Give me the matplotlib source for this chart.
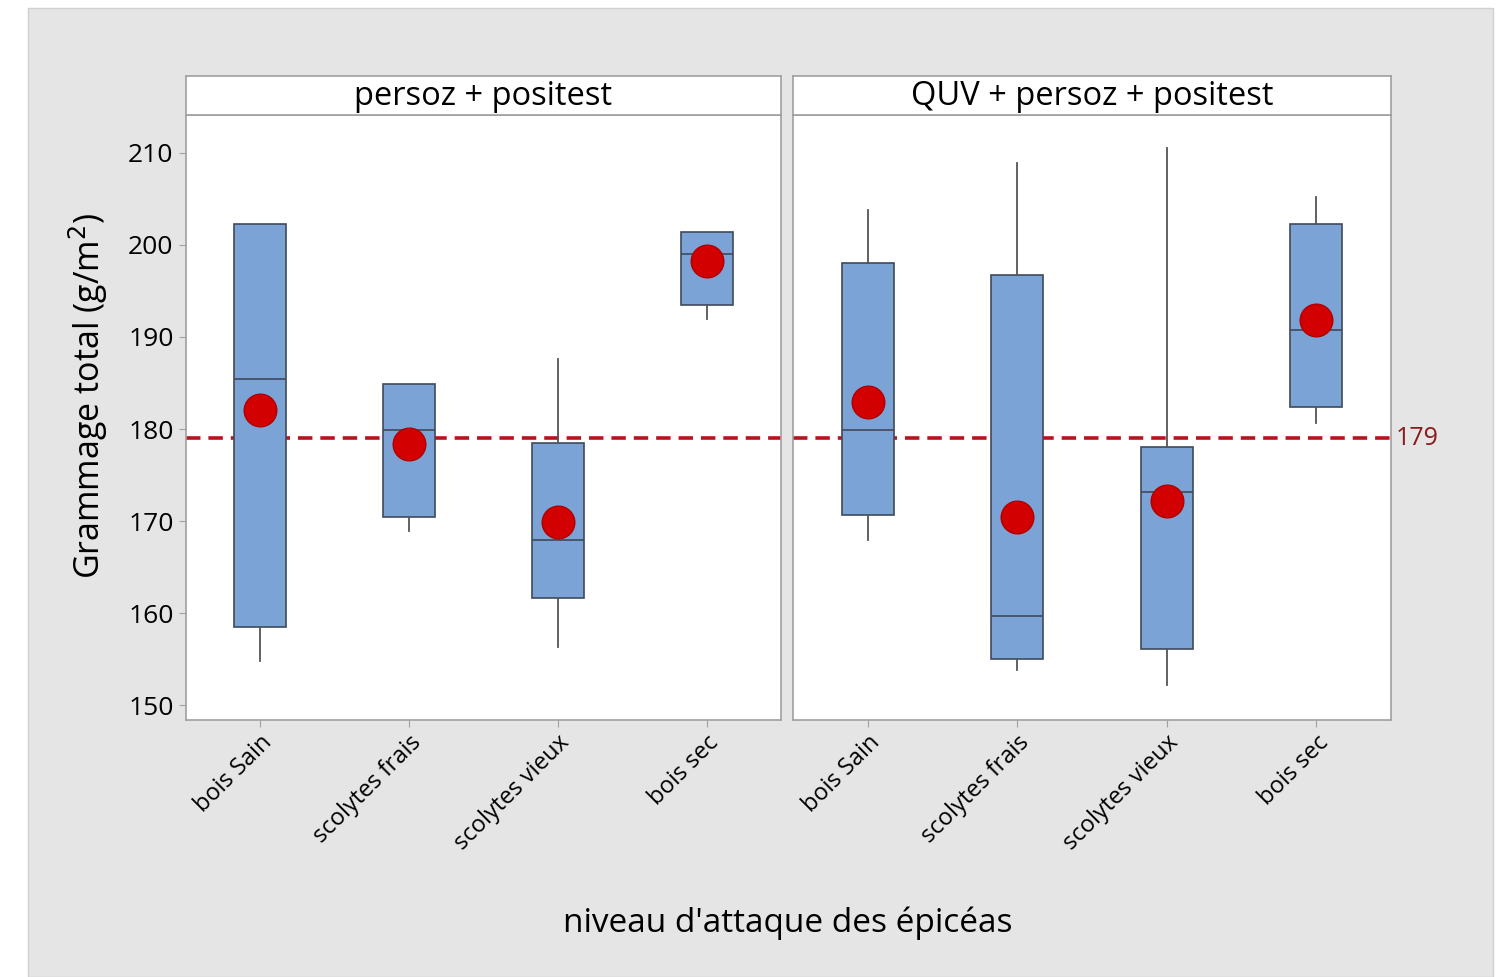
import numpy as np
import matplotlib
matplotlib.use('Agg')
from matplotlib import pyplot as plt
from matplotlib.patches import Rectangle

plt.rcParams['font.family'] = ['Open Sans', 'DejaVu Sans']

# données
categories = ['bois Sain', 'scolytes frais', 'scolytes vieux', 'bois sec']
panels = ['persoz + positest', 'QUV + persoz + positest']

q1_a = [158.5, 170.4, 161.7, 193.5]
med_a = [185.4, 179.9, 167.9, 199.0]
q3_a = [202.3, 184.9, 178.5, 201.4]
lo_a = [154.8, 168.9, 156.3, 192.0]
hi_a = [202.3, 184.9, 187.6, 201.4]
mean_a = [182.1, 178.4, 169.9, 198.2]

q1_b = [170.7, 155.0, 156.1, 182.4]
med_b = [179.9, 159.7, 173.2, 190.7]
q3_b = [198.0, 196.7, 178.1, 202.3]
lo_b = [167.9, 153.8, 152.2, 180.7]
hi_b = [203.8, 208.9, 210.5, 205.2]
mean_b = [182.9, 170.4, 172.2, 191.8]

ref_value = 179
y_ticks = [150, 160, 170, 180, 190, 200, 210]

W, H = 1506, 977
fig = plt.figure(figsize=(W / 100, H / 100), dpi=100)
fig.patch.set_facecolor('white')
# fond gris
fig.patches.append(Rectangle((28 / W, 0), (1493 - 28) / W, 1 - 8 / H,
                             transform=fig.transFigure, facecolor='#e5e5e5',
                             edgecolor='#d0d0d0', lw=1, zorder=-10))

box_color = '#7ba3d6'
edge_color = '#3f4a5a'
spine_color = '#a0a0a0'

ax_left = [186, 793]
ax_w = [595, 598]
bottom = 1 - 720 / H
height = (720 - 115) / H
strip_h = (115 - 76) / H

data = [(q1_a, med_a, q3_a, lo_a, hi_a, mean_a),
        (q1_b, med_b, q3_b, lo_b, hi_b, mean_b)]

axes = []
for i in range(2):
    q1, med, q3, lo, hi, mean = data[i]
    ax = fig.add_axes([ax_left[i] / W, bottom, ax_w[i] / W, height])
    axes.append(ax)
    stats = []
    for j in range(len(categories)):
        stats.append({'q1': q1[j], 'med': med[j], 'q3': q3[j],
                      'whislo': lo[j], 'whishi': hi[j], 'mean': mean[j],
                      'fliers': []})
    pos = np.arange(1, len(categories) + 1)
    ax.axhline(ref_value, color='#b8121e', lw=2.6, ls=(0, (4, 2.2)), zorder=1)
    ax.bxp(stats, positions=pos, widths=0.35, patch_artist=True,
           showcaps=False, showmeans=False,
           boxprops=dict(facecolor=box_color, edgecolor=edge_color, lw=1.2),
           medianprops=dict(color=edge_color, lw=1.2),
           whiskerprops=dict(color='#555555', lw=1.3), zorder=2)
    ax.plot(pos, mean, 'o', ms=23.5, color='#d20000', mec='#b00000', mew=1, zorder=3)
    ax.set_xlim(0.5, 4.5)
    ax.set_ylim(148.4, 214.1)
    ax.set_xticks(pos)
    ax.set_xticklabels(categories, rotation=45, ha='right', rotation_mode='anchor',
                       fontsize=17)
    ax.tick_params(axis='x', length=5, color=spine_color, pad=3)
    for s in ax.spines.values():
        s.set_color(spine_color)
        s.set_linewidth(1.2)
    if i == 0:
        ax.set_yticks(y_ticks)
        ax.tick_params(axis='y', length=5, color=spine_color, labelsize=19, pad=4)
    else:
        ax.set_yticks([])

    # bandeau de titre
    sax = fig.add_axes([ax_left[i] / W, 1 - 115 / H, ax_w[i] / W, strip_h])
    sax.set_xticks([])
    sax.set_yticks([])
    for s in sax.spines.values():
        s.set_color(spine_color)
        s.set_linewidth(1.2)
    sax.text(0.5, 0.48, panels[i], ha='center', va='center', fontsize=23.5,
             transform=sax.transAxes)

axes[1].text(1.008, ref_value, str(ref_value), color='#8b1a1a', fontsize=18,
             va='center', ha='left', transform=axes[1].get_yaxis_transform())

fig.text(788 / W, 1 - 923 / H, "niveau d'attaque des épicéas", ha='center',
         va='center', fontsize=24)
fig.text(88 / W, 1 - 396 / H, 'Grammage total (g/m$^2$)', ha='center',
         va='center', rotation=90, fontsize=24.5)

fig.savefig('out.png', dpi=100)
